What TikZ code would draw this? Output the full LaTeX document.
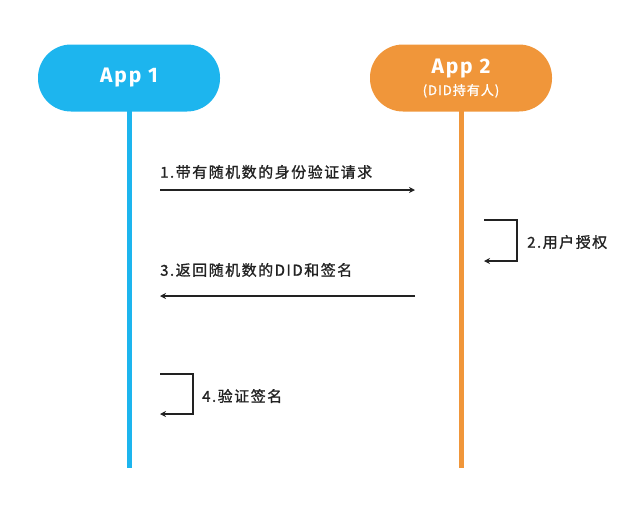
\documentclass[tikz,border=0pt]{standalone}
\usepackage{fontspec}
\setmainfont{Fira Sans}
\newfontfamily\appfont[LetterSpace=9]{Fira Sans Bold}
\newfontfamily\cjk[FakeBold=1.2]{Noto Sans CJK SC}
\usetikzlibrary{arrows.meta}
\definecolor{cblue}{HTML}{1DB5EE}
\definecolor{corange}{HTML}{F0963A}
\definecolor{ctext}{HTML}{222222}
\makeatletter
\newcommand\spc[2]{\@tfor\x:=#2\do{\x\hspace{#1}}}
\makeatother
\begin{document}
\begin{tikzpicture}[x=1pt,y=-1pt,
  pill/.style={rounded corners=33pt,minimum width=182pt,minimum height=67pt,text=white,font=\appfont\fontsize{21}{23}\selectfont,align=center,inner sep=0pt},
  life/.style={line width=5pt},
  msg/.style={line width=1.2pt,draw=ctext,-{Stealth[length=6pt,width=6pt]}},
  lbl/.style={font=\cjk\fontsize{15}{17}\selectfont,text=ctext,inner sep=0pt}]
\useasboundingbox (0,0) rectangle (640,523);
\draw[life,cblue] (129,100) -- (129,468) coordinate (e1);
\draw[life,corange] (461,100) -- (461,468) coordinate (e2);
\node[pill,fill=cblue] (a1) at (129,78) {App 1};
\node[pill,fill=corange] (a2) at (461,78) {App 2\\[-1pt]{\cjk\fontsize{13}{14}\selectfont \spc{1pt}{(DID持有人)}}};
\coordinate (p1) at (160,190); \coordinate (q1) at (415,190);
\draw[msg] (p1) -- (q1);
\node[lbl,anchor=west] (l1) at (160,172) {\spc{1.5pt}{1.带有随机数的身份验证请求}};
\coordinate (p2) at (484,220); \coordinate (q2) at (484,261);
\draw[msg] (p2) -- (517,220) -- (517,261) -- (q2);
\node[lbl,anchor=west] (l2) at (527,242) {\spc{1.5pt}{2.用户授权}};
\coordinate (p3) at (415,296); \coordinate (q3) at (160,296);
\draw[msg] (p3) -- (q3);
\node[lbl,anchor=west] (l3) at (160,270) {\spc{1.5pt}{3.返回随机数的DID和签名}};
\coordinate (p4) at (160,374); \coordinate (q4) at (160,414);
\draw[msg] (p4) -- (193,374) -- (193,414) -- (q4);
\node[lbl,anchor=west] (l4) at (202,396) {\spc{1.5pt}{4.验证签名}};
\end{tikzpicture}
\end{document}
